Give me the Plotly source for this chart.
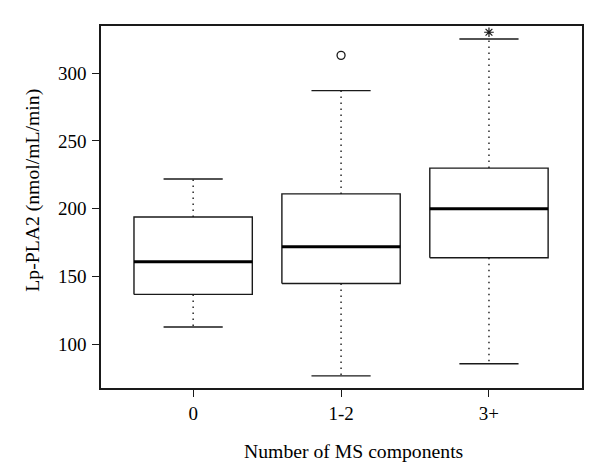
import plotly.graph_objects as go

# ---- data ----
groups = ["0", "1-2", "3+"]
lower_whisker = [113, 77, 86]
q1 = [137, 145, 164]
median = [161, 172, 200]
q3 = [194, 211, 230]
upper_whisker = [222, 287, 325]
outlier_group = ["1-2"]
outlier_value = [313]
extreme_group = ["3+"]
extreme_value = [330]

y_ticks = [100, 150, 200, 250, 300]

FONT = "Liberation Serif"
BOXW = 0.4   # half box width (category units)
CAPW = 0.2   # half whisker cap width
LINE = "#1a1a1a"

fig = go.Figure()
pos = {g: i for i, g in enumerate(groups)}

for i, g in enumerate(groups):
    x0, x1 = i - BOXW, i + BOXW
    fig.add_trace(go.Scatter(
        x=[x0, x1, x1, x0, x0], y=[q1[i], q1[i], q3[i], q3[i], q1[i]],
        mode="lines", line=dict(color=LINE, width=1.4), hoverinfo="skip"))
    fig.add_trace(go.Scatter(
        x=[x0, x1], y=[median[i], median[i]],
        mode="lines", line=dict(color="black", width=3), hoverinfo="skip"))
    fig.add_trace(go.Scatter(
        x=[i, i], y=[q3[i], upper_whisker[i]],
        mode="lines", line=dict(color=LINE, width=1.4, dash="1.5px,4.5px"), hoverinfo="skip"))
    fig.add_trace(go.Scatter(
        x=[i, i], y=[q1[i], lower_whisker[i]],
        mode="lines", line=dict(color=LINE, width=1.4, dash="1.5px,4.5px"), hoverinfo="skip"))
    for v in (upper_whisker[i], lower_whisker[i]):
        fig.add_trace(go.Scatter(
            x=[i - CAPW, i + CAPW], y=[v, v],
            mode="lines", line=dict(color=LINE, width=1.4), hoverinfo="skip"))

fig.add_trace(go.Scatter(
    x=[pos[g] for g in outlier_group], y=outlier_value, mode="markers",
    marker=dict(symbol="circle-open", size=8, color=LINE, line=dict(width=1.3)),
    hoverinfo="skip"))
fig.add_trace(go.Scatter(
    x=[pos[g] for g in extreme_group], y=extreme_value, mode="markers",
    marker=dict(symbol="asterisk-open", size=8, color=LINE, line=dict(width=1.2, color=LINE)),
    hoverinfo="skip"))

# page body has an 8px default margin, so the figure is 8px smaller
fig.update_layout(
    width=592, height=465,
    margin=dict(l=93, r=18, t=18, b=85),
    paper_bgcolor="white", plot_bgcolor="white",
    showlegend=False,
    font=dict(family=FONT, size=19, color="black"),
)
fig.update_xaxes(
    range=[-0.623, 2.629], tickvals=list(range(len(groups))), ticktext=groups,
    showgrid=False, zeroline=False, showline=True, mirror=True,
    linecolor=LINE, linewidth=1.5, ticks="outside", ticklen=7, tickwidth=1.3,
    tickcolor=LINE, tickfont=dict(family=FONT, size=19, color="black"),
)
fig.update_yaxes(
    range=[68.1, 334.6], tickvals=y_ticks,
    showgrid=False, zeroline=False, showline=True, mirror=True,
    linecolor=LINE, linewidth=1.5, ticks="outside", ticklen=7, tickwidth=1.3,
    tickcolor=LINE, tickfont=dict(family=FONT, size=19, color="black"),
    ticklabelstandoff=2,
)
fig.add_annotation(text="Number of MS components", xref="paper", yref="paper",
                   x=0.524, y=-0.173, xanchor="center", yanchor="middle",
                   showarrow=False, font=dict(family=FONT, size=19.7, color="black"))
fig.add_annotation(text="Lp-PLA2 (nmol/mL/min)", xref="paper", yref="paper",
                   x=-0.142, y=0.547, xanchor="center", yanchor="middle",
                   textangle=-90, showarrow=False,
                   font=dict(family=FONT, size=19.7, color="black"))

fig.write_html("out.html")
